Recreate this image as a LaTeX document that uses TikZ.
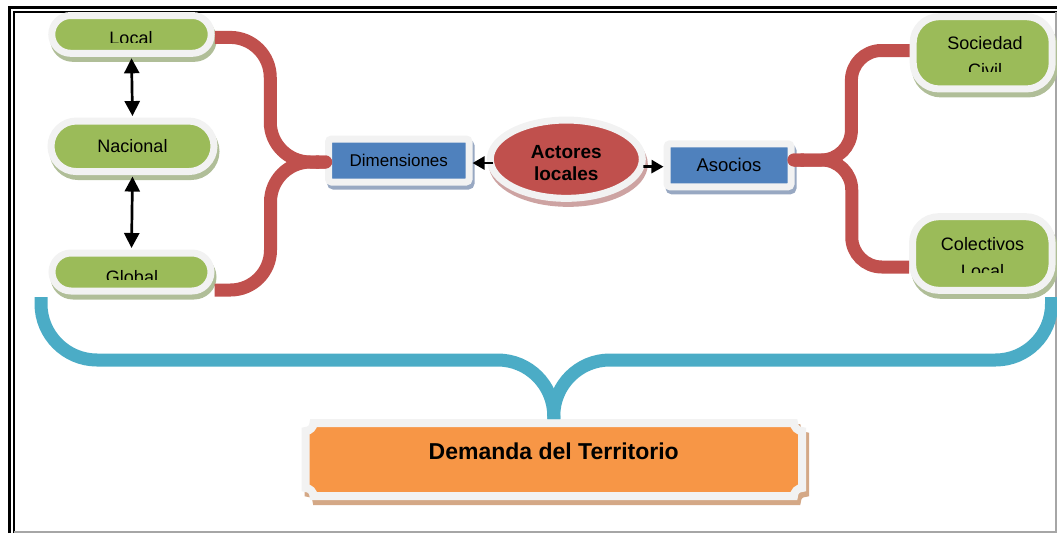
\documentclass[tikz,border=0pt]{standalone}
\usepackage{fontspec}
\setmainfont{Liberation Sans}
\usetikzlibrary{arrows.meta, calc, shadows, shapes.geometric, shapes.misc}

\definecolor{verde}{HTML}{9BBB59}
\definecolor{azul}{HTML}{4F81BD}
\definecolor{rojo}{HTML}{C0504D}
\definecolor{naranja}{HTML}{F79646}
\definecolor{turquesa}{HTML}{4BACC6}
\definecolor{rim}{HTML}{F2F2F2}
\definecolor{sverde}{HTML}{B0BE98}
\definecolor{sazul}{HTML}{98A8C2}
\definecolor{srojo}{HTML}{CDA3A2}
\definecolor{snaranja}{HTML}{D4A886}

\tikzset{every picture/.style = {x=1pt, y=-1pt}}
\tikzset{borde/.style = {draw=rim, line width=7pt, inner sep=0pt, outer sep=3.5pt}}
\tikzset{pill/.style = {borde, rounded rectangle, fill=verde,
  drop shadow={shadow xshift=2pt, shadow yshift=-5pt, fill=sverde, draw=sverde, opacity=1},
  font=\fontsize{18}{26.6}\selectfont}}
\tikzset{card/.style = {pill, rectangle, rounded corners=26pt}}
\tikzset{caja/.style = {borde, rectangle, rounded corners=3pt, fill=azul,
  drop shadow={shadow xshift=2pt, shadow yshift=-4pt, fill=sazul, draw=sazul, opacity=1}}}
\tikzset{ovalo/.style = {borde, ellipse, fill=rojo, align=center,
  drop shadow={shadow xshift=2pt, shadow yshift=-5pt, fill=srojo, draw=srojo, opacity=1},
  font=\bfseries\fontsize{19}{22.7}\selectfont}}
\tikzset{lbl/.style = {inner sep=0pt, align=center, font=\fontsize{18}{26.6}\selectfont}}
\tikzset{llave/.style = {draw=rojo, line width=13pt}}
\tikzset{llaveazul/.style = {draw=turquesa, line width=13pt, rounded corners=56pt}}
\tikzset{flecha/.style = {line width=2.7pt, >={Triangle[width=15pt,length=15pt]}, <->,
  shorten <=1.5pt, shorten >=1.5pt}}
\tikzset{punta/.style = {line width=2.7pt, >={Triangle[width=13pt,length=12pt]}, ->}}

% plaque with hollow corners: style, x0, y0, x1, y1, radius
\newcommand\placa[6]{%
  \filldraw[#1] ({#2+#6},#3) -- ({#4-#6},#3)
    .. controls ({#4-#6},{#3+0.55*#6}) and ({#4-0.55*#6},{#3+#6}) .. (#4,{#3+#6})
    -- (#4,{#5-#6})
    .. controls ({#4-0.55*#6},{#5-#6}) and ({#4-#6},{#5-0.55*#6}) .. ({#4-#6},#5)
    -- ({#2+#6},#5)
    .. controls ({#2+#6},{#5-0.55*#6}) and ({#2+0.55*#6},{#5-#6}) .. (#2,{#5-#6})
    -- (#2,{#3+#6})
    .. controls ({#2+0.55*#6},{#3+#6}) and ({#2+#6},{#3+0.55*#6}) .. ({#2+#6},#3)
    -- cycle;}

\begin{document}
\begin{tikzpicture}
  \useasboundingbox (0,0) rectangle (1057,533);

  % frame
  \draw[line width=2.5pt] (9.6,533) |- (1057,7.3);
  \draw[line width=2pt] (14.3,533) |- (1057,12);
  \draw[gray!70, line width=1.2pt] (14.3,532) -| (1056,12);

  % left column
  \node[pill, minimum width=159.5pt, minimum height=37.8pt] (local) at (131.5,34.4) {};
  \node[pill, minimum width=163pt, minimum height=50.5pt] (nac) at (132.5,146.3) {Nacional};
  \node[pill, minimum width=159pt, minimum height=38pt] (glob) at (131.5,272) {};
  \begin{scope}
    \clip (40,0) rectangle (230,42.3);
    \node[lbl, anchor=north] (localtxt) at (131,31.7) {Local};
  \end{scope}
  \begin{scope}
    \clip (40,240) rectangle (230,279.3);
    \node[lbl, anchor=north] (globtxt) at (132,270) {Global};
  \end{scope}

  % right column
  \node[card, minimum width=139pt, minimum height=72.3pt] (soc) at (982.7,52.8) {};
  \node[card, minimum width=139.5pt, minimum height=73.6pt] (col) at (982.3,253.5) {};
  \begin{scope}
    \clip (900,0) rectangle (1057,71.7);
    \node[lbl, anchor=north] (soctxt) at (985,36.7) {Sociedad\\Civil};
  \end{scope}
  \begin{scope}
    \clip (900,200) rectangle (1057,272.7);
    \node[lbl, anchor=north] (coltxt) at (982.5,237.3) {Colectivos\\Local};
  \end{scope}

  % middle row
  \node[caja, minimum width=140.5pt, minimum height=43pt,
    font=\fontsize{17}{20}\selectfont] (dim) at (398.8,160.5) {Dimensiones};
  \node[caja, minimum width=124pt, minimum height=43pt,
    font=\fontsize{18.5}{22}\selectfont] (asoc) at (729,165.3) {Asocios};
  \node[ovalo, minimum width=152pt, minimum height=78.3pt] (act)
    at (566.3,159.2) {\rule{0pt}{21pt}Actores\\locales};

  % bottom plaque
  \placa{fill=snaranja, draw=snaranja, line width=8pt}{308.5}{428}{805}{501}{8}
  \placa{fill=naranja, draw=rim, line width=8pt}{305.5}{423}{802}{496}{8}
  \node[inner sep=0pt, outer sep=4pt, minimum width=496.5pt, minimum height=73pt,
    text depth=17pt, font=\bfseries\fontsize{23}{26}\selectfont] (dem)
    at (553.75,459.5) {Demanda del Territorio};

  % braces
  \draw[llave, rounded corners=40pt, {Round Cap[]}-] ($(dim.west)+(7,1.5)$)
    -| ($(local.east)+(55.5,3)$) -- ($(local.east)+(0,3)$);
  \draw[llave, rounded corners=40pt, {Round Cap[]}-] ($(dim.west)+(7,1.5)$)
    -| ($(glob.east)+(56,18)$) -- ($(glob.east)+(0,18)$);
  \draw[llave, rounded corners=30pt, {Round Cap[]}-] ($(asoc.east)+(-7,-5.3)$)
    -| ($(soc.west)+(-58.3,-2.3)$) -- ($(soc.west)+(0,-2.3)$);
  \draw[llave, rounded corners=30pt, {Round Cap[]}-] ($(asoc.east)+(-7,-5.3)$)
    -| ($(col.west)+(-57.3,13.5)$) -- ($(col.west)+(0,13.5)$);

  \coordinate (izq) at (41,297);
  \coordinate (der) at (1051.5,297);
  \coordinate (tee) at ($(dem.north)+(0,-59)$);
  \draw[llaveazul] (izq) |- (tee) -- (dem.north);
  \draw[llaveazul] (der) |- (tee) -- (dem.north);

  % arrows
  \draw[flecha] (local.south) -- (nac.north);
  \draw[flecha] (nac.south) -- (glob.north);
  \draw[punta] ([shift={(6.5,3.8)}]act.west) -- ([shift={(0,2.5)}]dim.east);
  \draw[punta] ([shift={(-2.5,7.3)}]act.east) -- ([shift={(0,1.4)}]asoc.west);
\end{tikzpicture}
\end{document}
